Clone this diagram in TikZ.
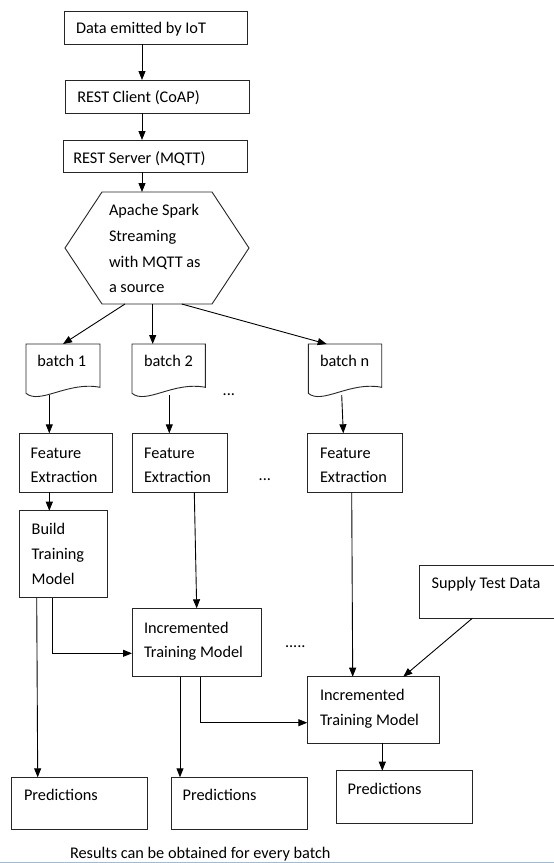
\documentclass[tikz,border=0pt]{standalone}
\usepackage{fontspec}
\setmainfont{Carlito}
\usetikzlibrary{arrows.meta}
\begin{document}
\begin{tikzpicture}[x=1pt,y=-1pt,
  box/.style={draw=black!85, line width=0.9pt, rectangle, inner sep=0pt, outer sep=0pt, anchor=north west},
  ghost/.style={rectangle, inner sep=0pt, outer sep=0pt, anchor=north west},
  outline/.style={draw=black!85, line width=0.9pt, line join=miter},
  txt/.style={anchor=base west, inner sep=0pt, outer sep=0pt, font=\fontsize{16.3}{20}\selectfont, text=black},
  arr/.style={draw=black, line width=0.9pt, -{Triangle[length=9pt,width=7pt]}},
]
\useasboundingbox (0,0) rectangle (554,863);
\clip (0,0) rectangle (554,863);
\fill[white] (0,0) rectangle (554,863);

% ---------- boxes ----------
\node[box, minimum width=183pt, minimum height=33pt] (d)   at (64,11) {};
\node[box, minimum width=184pt, minimum height=33pt] (rc)  at (65,80) {};
\node[box, minimum width=184pt, minimum height=32pt] (rs)  at (63,140) {};
\node[ghost, minimum width=184pt, minimum height=112pt] (hex) at (65,192) {};
\draw[outline] (65,248) -- (102,192) -- (212,192) -- (249,248) -- (212,304) -- (102,304) -- cycle;

\node[ghost, minimum width=74pt,   minimum height=51pt] (b1) at (26,344) {};
\node[ghost, minimum width=73.3pt, minimum height=51pt] (b2) at (132,344) {};
\node[ghost, minimum width=73.4pt, minimum height=51pt] (bn) at (308.3,344) {};
\draw[outline] (26,344) -- (100,344) -- (100,387.3) .. controls (68,381) and (40,405) .. (26,393.3) -- cycle;
\draw[outline] (132,344) -- (205.3,344) -- (205.3,387.3) .. controls (173.6,381) and (145.9,405) .. (132,393.3) -- cycle;
\draw[outline] (308.3,344) -- (381.7,344) -- (381.7,387.3) .. controls (349.9,381) and (322.2,405) .. (308.3,393.3) -- cycle;

\node[box, minimum width=93.4pt, minimum height=59pt] (fe1) at (19.3,433.3) {};
\node[box, minimum width=95.7pt, minimum height=59pt] (fe2) at (132,433.3) {};
\node[box, minimum width=94.6pt, minimum height=59pt] (fe3) at (307.7,433.3) {};
\node[box, minimum width=88pt, minimum height=87pt] (btm) at (19.3,510.7) {};
\node[box, minimum width=129.7pt, minimum height=68.4pt] (itm1) at (132,608.3) {};
\node[box, minimum width=160pt, minimum height=52.8pt] (sup) at (419.3,565.5) {};
\node[box, minimum width=131.7pt, minimum height=66.6pt] (itm2) at (307.3,676.7) {};
\node[box, minimum width=136pt, minimum height=52pt] (p1) at (11.7,777.3) {};
\node[box, minimum width=135.6pt, minimum height=52pt] (p2) at (171.7,777.3) {};
\node[box, minimum width=135.6pt, minimum height=52.6pt] (p3) at (336.7,770.7) {};

% ---------- texts ----------
\node[txt] (t1) at (76,33.3) {Data emitted by IoT};
\node[txt] (t2) at (77.3,102) {REST Client (CoAP)};
\node[txt] (t3) at (73.3,163.3) {REST Server (MQTT)};
\node[txt] (h1) at (109,215) {Apache Spark};
\node[txt] (h2) at (109,241) {Streaming};
\node[txt] (h3) at (109,267) {with MQTT as};
\node[txt] (h4) at (109,292) {a source};
\node[txt] (tb1) at (37.3,366) {batch 1};
\node[txt] (tb2) at (144,366) {batch 2};
\node[txt] (tbn) at (320,366) {batch n};
\node[txt] (dots1) at (222.7,395) {...};
\node[txt] (f1a) at (30.7,458.3) {Feature};
\node[txt] (f1b) at (30.7,482.7) {Extraction};
\node[txt] (f2a) at (144,458.3) {Feature};
\node[txt] (f2b) at (144,482.7) {Extraction};
\node[txt] (f3a) at (320,458.3) {Feature};
\node[txt] (f3b) at (320,482.7) {Extraction};
\node[txt] (dots2) at (258.7,480.5) {...};
\node[txt] (m1) at (31.7,534) {Build};
\node[txt] (m2) at (31.7,559.5) {Training};
\node[txt] (m3) at (31.7,584.3) {Model};
\node[txt] (i1a) at (144,633.3) {Incremented};
\node[txt] (i1b) at (144,657.7) {Training Model};
\node[txt] (dots3) at (285,647.3) {.....};
\node[txt] (ts) at (431.7,588.3) {Supply Test Data};
\node[txt] (i2a) at (320,700.5) {Incremented};
\node[txt] (i2b) at (320,725) {Training Model};
\node[txt] (tp1) at (24,800) {Predictions};
\node[txt] (tp2) at (182.7,800) {Predictions};
\node[txt] (tp3) at (347.7,794.3) {Predictions};
\node[txt] (cap) at (70,858.5) {Results can be obtained for every batch};

% ---------- helper coordinates ----------
\coordinate (X142) at (142,0);
\coordinate (X125) at (125,0);
\coordinate (X153) at (152.7,0);
\coordinate (X182) at (181.7,0);
\coordinate (X327) at (326.7,0);
\coordinate (X49) at (49.3,0);
\coordinate (X169) at (169.3,0);
\coordinate (X342) at (341.7,0);
\coordinate (X343) at (343.3,0);
\coordinate (X194) at (194.3,0);
\coordinate (X197) at (196.7,0);
\coordinate (X352) at (351.7,0);
\coordinate (X353) at (352.7,0);
\coordinate (X53) at (52.7,0);
\coordinate (X37) at (36.7,0);
\coordinate (X38) at (37.7,0);
\coordinate (X180) at (180,0);
\coordinate (X201) at (200.7,0);
\coordinate (X472) at (472.3,0);
\coordinate (X403) at (403.3,0);
\coordinate (X382) at (382.3,0);
\coordinate (Y653) at (0,653.3);
\coordinate (Y723) at (0,722.7);

% ---------- connectors ----------
\draw[arr] (d.south -| X142) -- (rc.north -| X142);
\draw[arr] (rc.south -| X142) -- (rs.north -| X142);
\draw[arr] (rs.south -| X142) -- (hex.north -| X142);
\draw[arr] (hex.south -| X125) -- (b1.north);
\draw[arr] (hex.south -| X153) -- (b2.north -| X153);
\draw[arr] (hex.south -| X182) -- (bn.north -| X327);
\draw[arr] (b1.south -| X49) -- (fe1.north -| X49);
\draw[arr] (b2.south -| X169) -- (fe2.north -| X169);
\draw[arr] (bn.south -| X342) -- (fe3.north -| X343);
\draw[arr] (fe1.south -| X49) -- (btm.north -| X49);
\draw[arr] (fe2.south -| X194) -- (itm1.north -| X197);
\draw[arr] (fe3.south -| X352) -- (itm2.north -| X353);
\draw[arr] (btm.south -| X53) |- (itm1.west |- Y653);
\draw[arr] (btm.south -| X37) -- (p1.north -| X38);
\draw[arr] (itm1.south -| X180) -- (p2.north -| X180);
\draw[arr] (itm1.south -| X201) |- (itm2.west |- Y723);
\draw[arr] (sup.south -| X472) -- (itm2.north -| X403);
\draw[arr] (itm2.south -| X382) -- (p3.north -| X382);

% ---------- bottom rule ----------
\draw[draw={rgb,255:red,160;green,186;blue,218}, line width=1.5pt] (0,862.3) -- (554,862.3);
\end{tikzpicture}
\end{document}
